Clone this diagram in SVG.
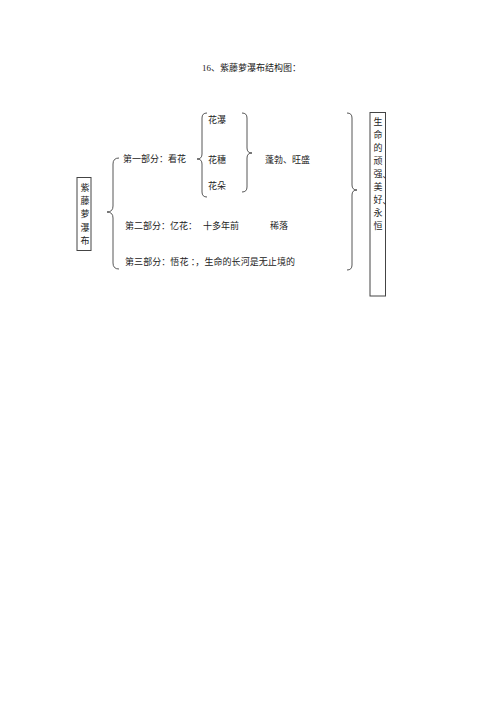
<svg xmlns="http://www.w3.org/2000/svg" width="500" height="708" viewBox="0 0 500 708">
<style>
text{font-family:"Liberation Serif","Noto Sans CJK SC",serif;font-size:9px;fill:#222;}
.br{fill:none;stroke:#444;stroke-width:0.9;}
.box{fill:#fff;stroke:#444;stroke-width:1;}
</style>
<rect width="500" height="708" fill="#fff"/>
<text id="title" x="202" y="71">16、紫藤萝瀑布结构图：</text>
<g id="connectors">
<path class="br" d="M119,158 Q113,158 113,164 L113,206 Q113,212 107,212 Q113,212 113,218 L113,263 Q113,269 119,269"/>
<path class="br" d="M207,113 Q202,113 202,118 L202,154 Q202,159 197,159 Q202,159 202,164 L202,192 Q202,197 207,197"/>
<path class="br" d="M242,113 Q247,113 247,118 L247,148 Q247,153 252,153 Q247,153 247,158 L247,187 Q247,192 242,192"/>
<path class="br" d="M347,113 Q352,113 352,118 L352,185 Q352,190 357,190 Q352,190 352,195 L352,265 Q352,270 347,270"/>
</g>
<g id="root">
<rect class="box" x="77" y="177.5" width="14" height="73"/>
<text x="80.5" y="190.5">紫</text>
<text x="80.5" y="204">藤</text>
<text x="80.5" y="217">萝</text>
<text x="80.5" y="230.5">瀑</text>
<text x="80.5" y="244">布</text>
</g>
<g id="part1"><text x="123" y="161.5">第一部分：看花</text></g>
<g id="huapu"><text x="208" y="123">花瀑</text></g>
<g id="huasui"><text x="208" y="163">花穗</text></g>
<g id="huaduo"><text x="208" y="189">花朵</text></g>
<g id="pengbo"><text x="265" y="163">蓬勃、旺盛</text></g>
<g id="part2">
<text x="125" y="228.5">第二部分：亿花：</text>
<text x="203" y="228.5">十多年前</text>
<text x="270" y="228.5">稀落</text>
</g>
<g id="part3">
<text x="125" y="265" textLength="170">第三部分：悟花 ：，生命的长河是无止境的</text>
</g>
<g id="result">
<rect class="box" x="370" y="112.5" width="15.5" height="183.5"/>
<text x="373.5" y="125">生</text>
<text x="373.5" y="138">命</text>
<text x="373.5" y="151">的</text>
<text x="373.5" y="164">顽</text>
<text x="373.5" y="177">强</text>
<text x="382.5" y="178">、</text>
<text x="373.5" y="190">美</text>
<text x="373.5" y="203">好</text>
<text x="382.5" y="204">、</text>
<text x="373.5" y="215.5">永</text>
<text x="373.5" y="228.5">恒</text>
</g>
</svg>
